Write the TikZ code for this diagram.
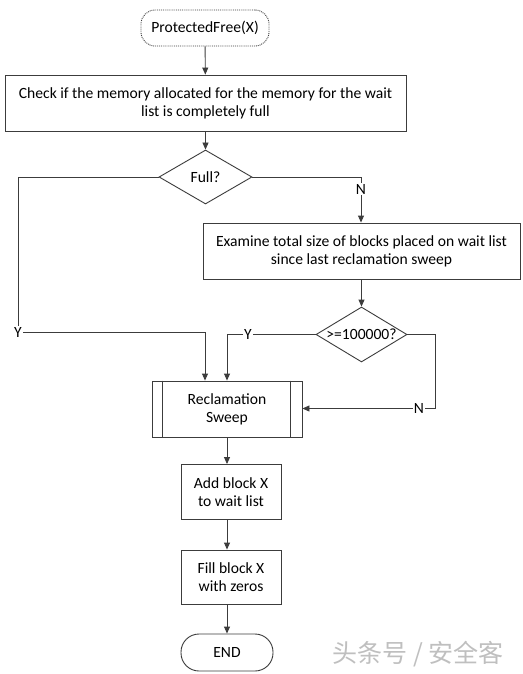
\documentclass[tikz,border=0pt]{standalone}
\usepackage{fontspec}
\setmainfont{Carlito}
\newfontfamily\cjkfont{Noto Sans CJK SC}
\usetikzlibrary{arrows.meta,shapes.geometric,calc}
\definecolor{lc}{RGB}{60,60,60}
\tikzset{
  base/.style={draw=lc, line width=0.9pt, inner sep=0pt, align=center, font=\fontsize{15.6}{18}\selectfont, text=black},
  procbox/.style={base, rectangle},
  decision/.style={base, diamond},
  txt/.style={inner sep=0pt, font=\fontsize{15.6}{18}\selectfont, text=black},
  lbl/.style={inner sep=1pt, fill=white, font=\fontsize{15.6}{18}\selectfont, text=black},
  conn/.style={draw=lc, line width=0.9pt},
  arr/.style={conn, -{Triangle[length=7pt,width=6pt]}}
}
\begin{document}
\begin{tikzpicture}[x=1pt,y=-1pt]
\path[use as bounding box, fill=white] (0,0) rectangle (522,674);

\node[base, rectangle, rounded corners=14pt, densely dotted, minimum width=128pt, minimum height=36pt] (start) at (205,28) {ProtectedFree(X)};
\node[procbox, minimum width=401pt, minimum height=56pt] (check) at (205.5,103) {Check if the memory allocated for the memory for the wait\\list is completely full};
\node[decision, minimum width=93pt, minimum height=54pt] (full) at (205.5,177) {};
\node[txt] (fullt) at (full) {Full?};
\node[procbox, minimum width=317pt, minimum height=56pt] (exam) at (361.5,251) {Examine total size of blocks placed on wait list\\since last reclamation sweep};
\node[decision, minimum width=91pt, minimum height=55pt] (thr) at (361.5,334.5) {};
\node[txt] (thrt) at (thr) {>=100000?};
\node[procbox, minimum width=150pt, minimum height=56pt] (rs) at (227,409) {Reclamation\\Sweep};
\draw[conn] ([xshift=11pt]rs.north west) -- ([xshift=11pt]rs.south west);
\draw[conn] ([xshift=-12pt]rs.north east) -- ([xshift=-12pt]rs.south east);
\node[procbox, minimum width=100pt, minimum height=55pt] (add) at (231,492) {Add block X\\to wait list};
\node[procbox, minimum width=100pt, minimum height=54pt] (fill) at (231,577) {Fill block X\\with zeros};
\node[base, rectangle, rounded corners=18pt, minimum width=92pt, minimum height=37pt] (end) at (227,652.5) {END};

\node[lbl] (yl) at (18,332) {Y};
\node[lbl] (nr) at (361,189) {N};
\node[lbl] (y2) at (248,334.5) {Y};
\node[lbl] (n2) at (419,408.5) {N};
\coordinate (cornerN) at (435,408.5);

\draw[arr] (start) -- (check);
\draw[arr] (check.south -| full.north) -- (full);
\draw[conn] (full.west) -| (yl.north);
\draw[arr] (yl.east) -| ([xshift=-22pt]rs.north);
\draw[conn] (full.east) -| (nr.north);
\draw[arr] (nr.south) -- (exam.north -| nr.south);
\draw[arr] (exam.south -| thr.north) -- (thr);
\draw[conn] (thr.west) -- (y2.east);
\draw[arr] (y2.west) -| (rs.north);
\draw[conn] (thr.east) -| (cornerN) -- (n2.east);
\draw[arr] (n2.west) -- (rs.east |- n2.west);
\draw[arr] (rs.south) -- (add.north -| rs.south);
\draw[arr] (add.south -| rs.south) -- (fill.north -| rs.south);
\draw[arr] (fill.south -| rs.south) -- (end.north);

\node[text=black!25, font=\cjkfont\fontsize{25}{27}\selectfont, inner sep=0pt] (wm) at (418,654) {头条号 / 安全客};
\end{tikzpicture}
\end{document}
